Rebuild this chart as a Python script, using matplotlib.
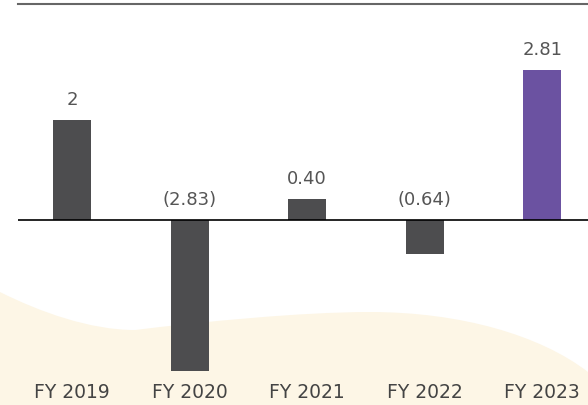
import matplotlib
matplotlib.use("Agg")
import matplotlib.pyplot as plt
from matplotlib.path import Path
from matplotlib.patches import PathPatch

categories = ["FY 2019", "FY 2020", "FY 2021", "FY 2022", "FY 2023"]
values = [1.87, -2.83, 0.40, -0.64, 2.81]
labels = ["2", "(2.83)", "0.40", "(0.64)", "2.81"]
colors = ["#4d4d4f", "#4d4d4f", "#4d4d4f", "#4d4d4f", "#6b52a1"]

W, H = 588, 405
fig = plt.figure(figsize=(W / 100, H / 100), dpi=100)
fig.patch.set_facecolor("white")

# decorative beige wave at the bottom (figure pixel coords, y from top)
def P(x, y):
    return (x / W, 1 - y / H)

verts = [P(0, 292),
         P(40, 312), P(90, 330), P(135, 330),
         P(200, 322), P(300, 312), P(370, 312),
         P(460, 312), P(540, 335), P(588, 372),
         P(588, 405), P(0, 405), P(0, 292)]
codes = [Path.MOVETO,
         Path.CURVE4, Path.CURVE4, Path.CURVE4,
         Path.CURVE4, Path.CURVE4, Path.CURVE4,
         Path.CURVE4, Path.CURVE4, Path.CURVE4,
         Path.LINETO, Path.LINETO, Path.CLOSEPOLY]
wave = PathPatch(Path(verts, codes), transform=fig.transFigure,
                 facecolor="#fdf6e6", edgecolor="none", zorder=-5)
fig.patches.append(wave)

ax = fig.add_axes([18 / W, 0, 1 - 18 / W, 1 - 4 / H])
ax.set_zorder(5)
ax.set_facecolor("none")
x = range(len(categories))
ax.bar(x, values, width=0.323, color=colors, zorder=2)
ax.set_xlim(-0.46, 4.39)
ax.set_ylim(-3.46, 4.04)
ax.axhline(0, color="black", lw=1.2, zorder=3)

for i, (v, lab) in enumerate(zip(values, labels)):
    ax.annotate(lab, (i, max(v, 0)), xytext=(0, 8), textcoords="offset points",
                ha="center", va="bottom", fontsize=13, color="#555555",
                family="DejaVu Sans")

for s in ["left", "right", "bottom"]:
    ax.spines[s].set_visible(False)
ax.spines["top"].set_color("#666666")
ax.spines["top"].set_linewidth(1.5)
ax.set_yticks([])
ax.set_xticks([])

for i, c in enumerate(categories):
    ax.text(i, -3.22, c, ha="center", va="center", fontsize=13.5, color="#444444",
            zorder=4)

fig.savefig("out.png", dpi=100)
